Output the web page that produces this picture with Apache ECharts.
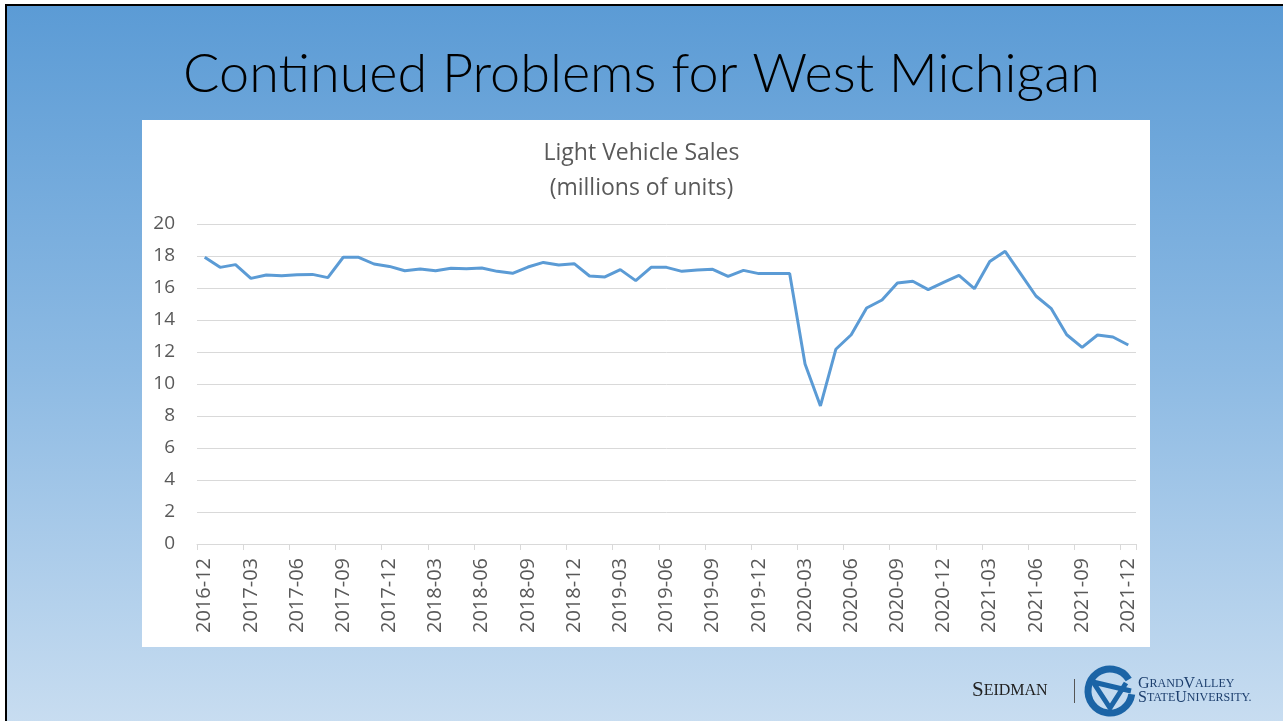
<!DOCTYPE html>
<html>
<head>
<meta charset="utf-8">
<script src="https://cdn.jsdelivr.net/npm/echarts@6/dist/echarts.min.js"></script>
<style>
  html, body { margin: 0; padding: 0; background: #fff; }
  #main { width: 1283px; height: 721px; }
</style>
</head>
<body>
<div id="main"></div>
<script>
// monthly light vehicle sales, millions of units (SAAR)
const months = []
for (let y = 2016; y <= 2021; y++) {
  for (let m = 1; m <= 12; m++) {
    if (y === 2016 && m < 12) continue
    months.push(y + '-' + String(m).padStart(2, '0'))
  }
}
const sales = [
  17.92, 17.29, 17.46, 16.6, 16.81, 16.77, 16.83, 16.85, 16.65, 17.92,
  17.92, 17.5, 17.35, 17.08, 17.19, 17.08, 17.23, 17.21, 17.25, 17.04,
  16.92, 17.31, 17.6, 17.44, 17.52, 16.75, 16.69, 17.15, 16.46, 17.29,
  17.29, 17.04, 17.12, 17.17, 16.73, 17.1, 16.9, 16.9, 16.9, 11.25,
  8.63, 12.17, 13.08, 14.75, 15.25, 16.31, 16.42, 15.9, 16.35, 16.79,
  15.96, 17.65, 18.29, 16.9, 15.5, 14.71, 13.08, 12.29, 13.06, 12.94,
  12.44
]
const yTicks = [0, 2, 4, 6, 8, 10, 12, 14, 16, 18, 20]

const slideTitle = 'Continued Problems for West Michigan'
const chartTitle = 'Light Vehicle Sales\n(millions of units)'

const myChart = echarts.init(document.getElementById('main'))

const option = {
  animation: false,
  graphic: [
    // slide background
    {
      type: 'rect', z: -10, silent: true,
      shape: { x: 6, y: 5, width: 1300, height: 730 },
      style: {
        fill: new echarts.graphic.LinearGradient(0, 0, 0, 1, [
          { offset: 0, color: '#5b9bd5' },
          { offset: 0.5, color: '#8dbae3' },
          { offset: 1, color: '#cadef1' }
        ]),
        stroke: '#000', lineWidth: 2
      }
    },
    // white chart panel
    {
      type: 'rect', z: -9, silent: true,
      shape: { x: 142, y: 120, width: 1008, height: 527 },
      style: { fill: '#ffffff' }
    },
    {
      type: 'text', left: 'center', top: 48,
      style: {
        text: slideTitle, fill: '#000',
        font: '300 54px Lato, "Open Sans", sans-serif'
      }
    },
    // logo
    {
      type: 'text', left: 972, top: 680,
      style: {
        text: '{a|S}{b|EIDMAN}',
        rich: {
          a: { fontFamily: 'Liberation Serif', fontSize: 21, fill: '#222' },
          b: { fontFamily: 'Liberation Serif', fontSize: 16, fill: '#222' }
        }
      }
    },
    {
      type: 'rect', silent: true,
      shape: { x: 1074, y: 679, width: 1, height: 24 },
      style: { fill: '#555' }
    },
    {
      type: 'arc', silent: true,
      shape: { cx: 1110, cy: 691, r: 22, startAngle: 0.15, endAngle: -0.55, clockwise: true },
      style: { stroke: '#1b64a6', lineWidth: 7, fill: null }
    },
    {
      type: 'polyline', silent: true,
      shape: { points: [[1131, 691], [1093, 682], [1110, 708], [1126, 683]] },
      style: { stroke: '#1b64a6', lineWidth: 5, fill: null, lineJoin: 'round' }
    },
    {
      type: 'text', left: 1138, top: 676,
      style: {
        text: '{a|G}{b|RAND}{a|V}{b|ALLEY}\n{a|S}{b|TATE}{a|U}{b|NIVERSITY.}',
        lineHeight: 14,
        rich: {
          a: { fontFamily: 'Liberation Serif', fontSize: 16, fill: '#1d3f6e', lineHeight: 14 },
          b: { fontFamily: 'Liberation Serif', fontSize: 12, fill: '#1d3f6e', lineHeight: 14 }
        }
      }
    }
  ],
  title: {
    text: chartTitle,
    left: 'center',
    top: 131,
    textStyle: {
      color: '#595959',
      fontSize: 23,
      fontWeight: 'normal',
      fontFamily: '"Open Sans", "Noto Sans", sans-serif',
      lineHeight: 35
    }
  },
  grid: {
    left: 197,
    right: 147,
    top: 224,
    bottom: 177
  },
  xAxis: {
    type: 'category',
    data: months,
    boundaryGap: true,
    axisLine: { lineStyle: { color: '#d9d9d9', width: 1 } },
    axisTick: {
      show: true,
      interval: 2,
      length: 6,
      lineStyle: { color: '#d9d9d9' }
    },
    axisLabel: {
      interval: 2,
      rotate: 90,
      margin: 14,
      color: '#595959',
      fontSize: 20,
      fontFamily: '"Open Sans", "Noto Sans", sans-serif'
    }
  },
  yAxis: {
    type: 'value',
    min: yTicks[0],
    max: yTicks[yTicks.length - 1],
    interval: 2,
    axisLine: { show: false },
    axisTick: { show: false },
    splitLine: { lineStyle: { color: '#d9d9d9', width: 1 } },
    axisLabel: {
      margin: 22,
      color: '#595959',
      fontSize: 19,
      fontFamily: '"Open Sans", "Noto Sans", sans-serif'
    }
  },
  series: [
    {
      name: 'Light Vehicle Sales',
      type: 'line',
      data: sales,
      symbol: 'none',
      color: '#5b9bd5',
      lineStyle: { width: 3, color: '#5b9bd5' }
    }
  ]
}
myChart.setOption(option)
</script>
</body>
</html>
